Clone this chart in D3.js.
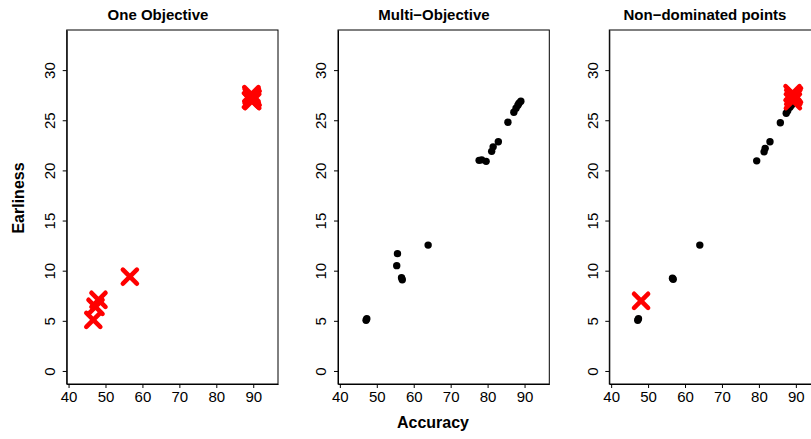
<!DOCTYPE html>
<html><head><meta charset="utf-8">
<script src="https://cdn.jsdelivr.net/npm/d3@7"></script>
<style>body{margin:0;background:#fff}svg{display:block}text{font-family:"Liberation Sans",Arial,Helvetica,sans-serif}</style>
</head><body>
<svg id="c" width="811" height="439"></svg>
<script>
const xTicks = [40, 50, 60, 70, 80, 90];
const yTicks = [0, 5, 10, 15, 20, 25, 30];
const panelTitles = ["One Objective", "Multi\u2212Objective", "Non\u2212dominated points"];
const xLabel = "Accuracy";
const yLabel = "Earliness";

// Panel 1: one-objective solutions (red crosses)
const oneAcc  = [46.7, 47.3, 48.1, 56.6, 89.4, 89.6, 89.8, 89.5, 89.7];
const oneEarl = [5.1, 6.4, 7.1, 9.4, 27.0, 27.4, 27.2, 27.6, 26.9];

// Panel 2: multi-objective solutions (black dots)
const multiAcc  = [47.1, 47.3, 55.4, 55.6, 56.7, 56.9, 63.9, 77.7, 78.4, 79.6, 81.1, 81.5, 82.9, 85.5, 87.1, 87.7, 88.2, 88.5, 89.0];
const multiEarl = [5.05, 5.2, 10.5, 11.7, 9.3, 9.1, 12.55, 21.0, 21.05, 20.9, 21.9, 22.35, 22.85, 24.8, 25.8, 26.2, 26.5, 26.7, 26.9];

// Panel 3: non-dominated points (black dots) and best one-objective (red crosses)
const ndAcc  = [47.2, 47.4, 56.6, 56.8, 64.0, 79.4, 81.4, 81.7, 83.0, 85.8, 87.4, 87.8, 88.4, 88.8, 89.1];
const ndEarl = [5.05, 5.2, 9.25, 9.15, 12.55, 20.95, 21.85, 22.2, 22.85, 24.75, 25.7, 25.95, 26.3, 26.5, 26.7];
const ndBestAcc  = [48.1, 89.1, 89.3, 89.2, 89.5];
const ndBestEarl = [7.0, 27.7, 27.3, 26.9, 27.5];

const svg = d3.select("#c");
const plotW = 211.3, plotTop = 30, plotBottom = 384;
const lefts = [66.7, 338, 609.3];
const titleX = [158, 434, 705];

const y = d3.scaleLinear().domain([-1.3, 34.0]).range([plotBottom, plotTop]);

function cross(g, xs, ys, x) {
  const s = 7;
  const pts = xs.map((v, i) => [x(v), y(ys[i])]);
  g.selectAll(null).data(pts).enter().append("path")
    .attr("d", d => `M${d[0]-s},${d[1]-s}L${d[0]+s},${d[1]+s}M${d[0]-s},${d[1]+s}L${d[0]+s},${d[1]-s}`)
    .attr("stroke", "#ff0000").attr("stroke-width", 4.6).attr("stroke-linecap", "round").attr("fill", "none");
}
function dots(g, xs, ys, x) {
  g.selectAll(null).data(xs.map((v, i) => [x(v), y(ys[i])])).enter().append("circle")
    .attr("cx", d => d[0]).attr("cy", d => d[1]).attr("r", 3.7).attr("fill", "#000");
}

lefts.forEach((L, p) => {
  const x = d3.scaleLinear().domain([39.5, 96.7]).range([L, L + plotW]);
  const g = svg.append("g");
  if (p === 0) cross(g, oneAcc, oneEarl, x);
  if (p === 1) dots(g, multiAcc, multiEarl, x);
  if (p === 2) { dots(g, ndAcc, ndEarl, x); cross(g, ndBestAcc, ndBestEarl, x); }
  svg.append("rect").attr("x", L).attr("y", plotTop).attr("width", plotW).attr("height", plotBottom - plotTop)
    .attr("fill", "none").attr("stroke", "#000").attr("stroke-width", 1);
  const xa = svg.append("g").attr("transform", `translate(0,${plotBottom})`)
    .call(d3.axisBottom(x).tickValues(xTicks).tickSize(4).tickSizeOuter(0).tickPadding(3));
  xa.selectAll("text").attr("font-size", 15).attr("fill", "#000")
    .style("font-family", '"Liberation Sans",Arial,sans-serif');
  xa.selectAll("line,path").attr("stroke", "#000");
  const ya = svg.append("g").attr("transform", `translate(${L},0)`)
    .call(d3.axisLeft(y).tickValues(yTicks).tickSize(4).tickSizeOuter(0));
  ya.selectAll("line,path").attr("stroke", "#000");
  ya.selectAll("text").attr("font-size", 15).attr("fill", "#000")
    .style("font-family", '"Liberation Sans",Arial,sans-serif')
    .attr("x", 0).attr("y", 0).attr("dy", null).attr("text-anchor", "middle")
    .attr("transform", "translate(-11.7,0) rotate(-90)");
  svg.append("text").attr("x", titleX[p]).attr("y", 19.5).attr("text-anchor", "middle")
    .attr("font-size", 15).attr("font-weight", "bold").text(panelTitles[p]);
});

svg.append("text").attr("x", 433).attr("y", 428).attr("text-anchor", "middle")
  .attr("font-size", 16).attr("font-weight", "bold").text(xLabel);
svg.append("text").attr("transform", "translate(24,198) rotate(-90)").attr("text-anchor", "middle")
  .attr("font-size", 16).attr("font-weight", "bold").text(yLabel);
</script>
</body></html>
